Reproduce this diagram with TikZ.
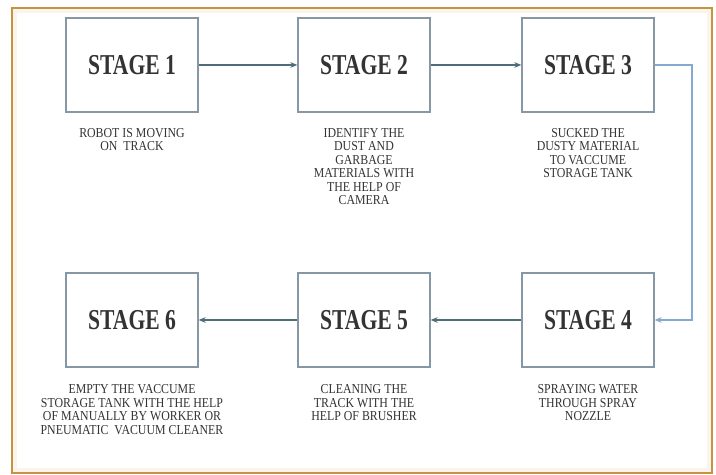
\documentclass[tikz,border=0pt]{standalone}
\usepackage{fontspec}
\setmainfont{Liberation Serif}
\newfontfamily\stagefont[FakeStretch=0.75]{Liberation Serif}
\newfontfamily\notefont[FakeStretch=0.87]{Liberation Serif}
\usepackage{xcolor}
\usepackage{tikz}
\usetikzlibrary{arrows.meta, positioning, shadows}

\definecolor{frameorange}{HTML}{C8923E}
\definecolor{boxgrey}{HTML}{8797A4}
\definecolor{flowteal}{HTML}{4D6E78}
\definecolor{sideblue}{HTML}{86A9CF}
\definecolor{inkgrey}{HTML}{333333}

\tikzset{
    stagebox/.style={draw=boxgrey, line width=0.9pt, fill=white,
        minimum width=3.3cm, minimum height=2.35cm,
        drop shadow={opacity=0.25, shadow xshift=0.4pt, shadow yshift=-0.9pt},
        text=inkgrey, font=\stagefont\bfseries\fontsize{20.5}{22}\selectfont},
    note/.style={align=center, inner sep=0pt, text=inkgrey,
        font=\notefont\fontsize{9.7}{9.6}\selectfont},
    flow/.style={->, draw=flowteal, line width=0.8pt},
}

\begin{document}
\begin{tikzpicture}[>={Stealth[length=5pt, width=4pt]}]
    \useasboundingbox (0,0) rectangle (17.9,11.875);

    % Frame
    \draw[line width=3pt, frameorange!10] (0.38,0.13) rectangle (17.72,11.6);
    \draw[line width=1.1pt, frameorange] (0.3,0.05) rectangle (17.8,11.675);

    % Stages
    \node[stagebox] (s1) at (3.3,10.25) {STAGE 1};
    \node[stagebox] (s2) at (9.1,10.25) {STAGE 2};
    \node[stagebox] (s3) at (14.7,10.25) {STAGE 3};
    \node[stagebox] (s4) at (14.7,3.875) {STAGE 4};
    \node[stagebox] (s5) at (9.1,3.875) {STAGE 5};
    \node[stagebox] (s6) at (3.3,3.875) {STAGE 6};
    \coordinate (turn) at (17.3,3.875);

    % Notes
    \node[note, below=0.38cm of s1] {ROBOT IS MOVING\\ON\ \ TRACK};
    \node[note, below=0.38cm of s2] {IDENTIFY THE\\DUST AND\\GARBAGE\\MATERIALS WITH\\THE HELP OF\\CAMERA};
    \node[note, below=0.38cm of s3] {SUCKED THE\\DUSTY MATERIAL\\TO VACCUME\\STORAGE TANK};
    \node[note, below=0.42cm of s4] {SPRAYING WATER\\THROUGH SPRAY\\NOZZLE};
    \node[note, below=0.42cm of s5] {CLEANING THE\\TRACK WITH THE\\HELP OF BRUSHER};
    \node[note, below=0.42cm of s6] {EMPTY THE VACCUME\\STORAGE TANK WITH THE HELP\\OF MANUALLY BY WORKER OR\\PNEUMATIC\ \ VACUUM CLEANER};

    % Connectors
    \draw[flow] (s1) -- (s2);
    \draw[flow] (s2) -- (s3);
    \draw[flow, draw=sideblue] (s3) -| (turn) -- (s4);
    \draw[flow] (s4) -- (s5);
    \draw[flow] (s5) -- (s6);
\end{tikzpicture}
\end{document}
